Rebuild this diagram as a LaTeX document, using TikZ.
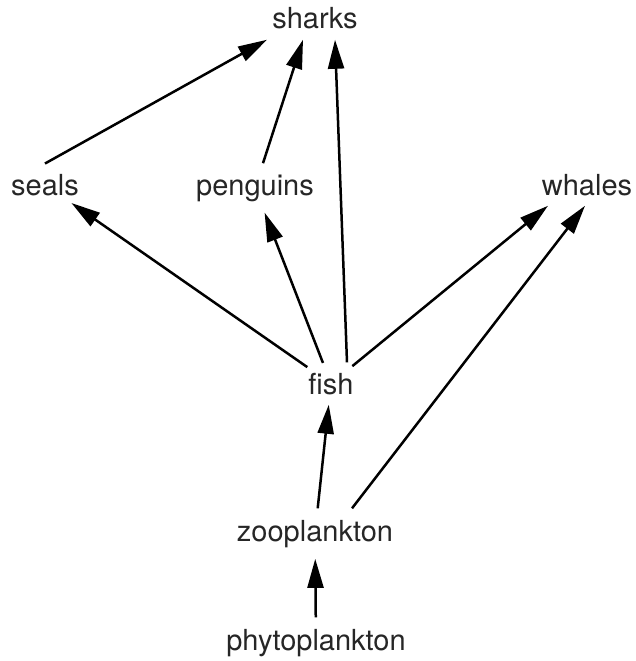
\documentclass[tikz,border=0pt]{standalone}
\usepackage{fontspec}
\setmainfont{TeX Gyre Heros}
\usetikzlibrary{arrows.meta,shapes.geometric}

\tikzstyle{animal} = [ellipse, inner sep=4pt, anchor=base, text=black!85, font=\fontsize{29}{34}\selectfont]
\tikzstyle{eats} = [line width=2.5pt, -{Triangle[length=29pt,width=16pt]}]

\begin{document}
\begin{tikzpicture}[x=1pt, y=-1pt]
    \useasboundingbox (0,0) rectangle (635,661);

    \node (sharks)   [animal] at (315,29)  {sharks};
    \node (seals)    [animal] at (45,195)  {seals};
    \node (penguins) [animal] at (255,195) {penguins};
    \node (whales)   [animal] at (587,195) {whales};
    \node (fish)     [animal] at (331,394) {fish};
    \node (zoo)      [animal] at (315,541) {zooplankton};
    \node (phyto)    [animal] at (316,650) {phytoplankton};

    \draw [eats] (seals.north) -- ([xshift=-48pt]sharks.south);
    \draw [eats] (penguins) -- ([xshift=-12pt]sharks.south);
    \draw [eats] ([xshift=16pt]fish.north) -- ([xshift=20pt]sharks.south);
    \draw [eats] (fish) -- (seals);
    \draw [eats] (fish) -- (penguins);
    \draw [eats] (fish) -- ([xshift=-39pt]whales.south);
    \draw [eats] (zoo) -- (fish);
    \draw [eats] ([xshift=37pt]zoo.north) -- ([xshift=-2pt]whales.south);
    \draw [eats] (phyto) -- (zoo);
\end{tikzpicture}
\end{document}
